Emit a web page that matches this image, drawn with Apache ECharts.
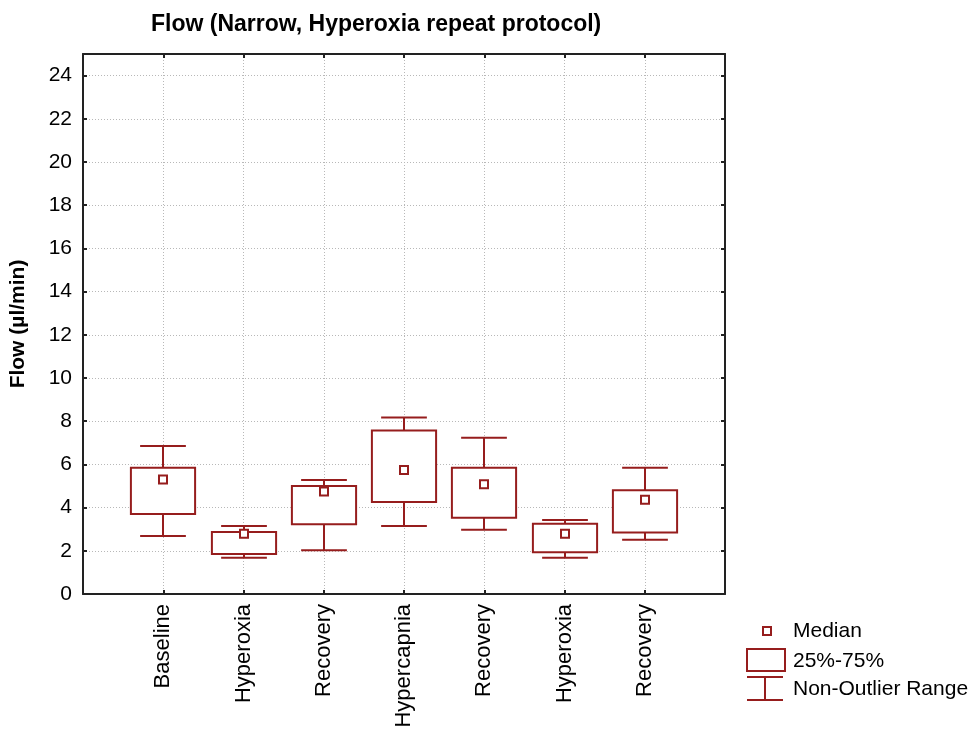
<!DOCTYPE html>
<html>
<head>
<meta charset="utf-8">
<script src="https://cdn.jsdelivr.net/npm/echarts@6/dist/echarts.min.js"></script>
<style>
html,body{margin:0;padding:0;background:#fff;}
#c{width:973px;height:732px;}
</style>
</head>
<body>
<div id="c"></div>
<script>
// Data
const categories = ['', 'Baseline', 'Hyperoxia', 'Recovery', 'Hypercapnia', 'Recovery', 'Hyperoxia', 'Recovery', ''];
const whiskerLow = [2.69, 1.68, 2.03, 3.15, 2.97, 1.68, 2.51];
const q1 = [3.70, 1.85, 3.23, 4.26, 3.53, 1.93, 2.85];
const median = [5.30, 2.79, 4.74, 5.74, 5.08, 2.79, 4.36];
const q3 = [5.84, 2.87, 5.00, 7.57, 5.84, 3.25, 4.80];
const whiskerHigh = [6.85, 3.15, 5.28, 8.17, 7.23, 3.43, 5.84];
const yTicks = [0, 2, 4, 6, 8, 10, 12, 14, 16, 18, 20, 22, 24];

const RED = '#961d1d';
const FONT = 'Liberation Sans, Arial, sans-serif';

const seriesData = whiskerLow.map((v, i) => [i + 1, v, q1[i], median[i], q3[i], whiskerHigh[i]]);

function renderItem(params, api) {
  const x = api.value(0);
  const pLow = api.coord([x, api.value(1)]);
  const pQ1 = api.coord([x, api.value(2)]);
  const pMed = api.coord([x, api.value(3)]);
  const pQ3 = api.coord([x, api.value(4)]);
  const pHigh = api.coord([x, api.value(5)]);
  const step = api.size([1, 0])[0];
  const bw = step * 0.8;
  const cw = step * 0.57;
  const cx = Math.round(pMed[0]);
  const st = {stroke: RED, lineWidth: 2, fill: null};
  const ms = 8;
  return {
    type: 'group',
    children: [
      {type: 'line', shape: {x1: cx, y1: pQ3[1], x2: cx, y2: pHigh[1]}, style: st},
      {type: 'line', shape: {x1: cx, y1: pQ1[1], x2: cx, y2: pLow[1]}, style: st},
      {type: 'line', shape: {x1: cx - cw / 2, y1: pHigh[1], x2: cx + cw / 2, y2: pHigh[1]}, style: st},
      {type: 'line', shape: {x1: cx - cw / 2, y1: pLow[1], x2: cx + cw / 2, y2: pLow[1]}, style: st},
      {type: 'rect', shape: {x: cx - bw / 2, y: pQ3[1], width: bw, height: pQ1[1] - pQ3[1]}, style: {stroke: RED, lineWidth: 2, fill: '#fff'}},
      {type: 'rect', shape: {x: cx - ms / 2, y: pMed[1] - ms / 2, width: ms, height: ms}, style: {stroke: RED, lineWidth: 2, fill: '#fff'}}
    ]
  };
}

const chart = echarts.init(document.getElementById('c'), null, {renderer: 'canvas'});
const gridLine = {show: true, lineStyle: {color: '#b8b8b8', type: [1, 2], width: 1}};
const axisLine = {show: true, onZero: false, lineStyle: {color: '#222', width: 2}};

chart.setOption({
  backgroundColor: '#fff',
  animation: false,
  title: {
    text: 'Flow (Narrow, Hyperoxia repeat protocol)',
    left: 146, top: 8,
    textStyle: {fontFamily: FONT, fontWeight: 'bold', fontSize: 23, color: '#000'}
  },
  grid: {left: 81, right: 248, top: 54, bottom: 138, show: false},
  xAxis: [{
    type: 'category', data: categories, boundaryGap: false, position: 'bottom',
    axisLine: axisLine,
    axisTick: {show: true, inside: true, length: 4, interval: 0, lineStyle: {color: '#222', width: 2}},
    axisLabel: {rotate: 90, interval: 0, fontFamily: FONT, fontSize: 22, color: '#000', margin: 10},
    splitLine: Object.assign({interval: 0}, gridLine)
  }, {
    type: 'category', data: categories, boundaryGap: false, position: 'top',
    axisLine: axisLine,
    axisTick: {show: true, inside: true, length: 4, interval: 0, lineStyle: {color: '#222', width: 2}},
    axisLabel: {show: false}, splitLine: {show: false}
  }],
  yAxis: [{
    type: 'value', min: 0, max: 25, interval: 2, position: 'left',
    name: 'Flow (µl/min)', nameLocation: 'middle', nameGap: 54, nameRotate: 90,
    nameTextStyle: {fontFamily: FONT, fontWeight: 'bold', fontSize: 21, color: '#000'},
    axisLine: axisLine,
    axisTick: {show: true, inside: true, length: 4, lineStyle: {color: '#222', width: 2}},
    axisLabel: {fontFamily: FONT, fontSize: 21, color: '#000', margin: 11, showMaxLabel: false,
      formatter: v => (yTicks.indexOf(v) >= 0 ? String(v) : '')},
    splitLine: gridLine
  }, {
    type: 'value', min: 0, max: 25, interval: 2, position: 'right',
    axisLine: axisLine,
    axisTick: {show: true, inside: true, length: 4, lineStyle: {color: '#222', width: 2}},
    axisLabel: {show: false}, splitLine: {show: false}
  }],
  series: [{
    type: 'custom', name: 'Flow', renderItem: renderItem,
    encode: {x: 0, y: [1, 2, 3, 4, 5]},
    data: seriesData, z: 10
  }],
  graphic: [
    {type: 'rect', shape: {x: 763, y: 627, width: 8, height: 8}, style: {stroke: RED, lineWidth: 2, fill: '#fff'}},
    {type: 'text', x: 793, y: 631, style: {text: 'Median', font: '21px ' + FONT, fill: '#000', textVerticalAlign: 'middle'}},
    {type: 'rect', shape: {x: 747, y: 649, width: 38, height: 22}, style: {stroke: RED, lineWidth: 2, fill: '#fff'}},
    {type: 'text', x: 793, y: 661, style: {text: '25%-75%', font: '21px ' + FONT, fill: '#000', textVerticalAlign: 'middle'}},
    {type: 'line', shape: {x1: 747, y1: 677, x2: 783, y2: 677}, style: {stroke: RED, lineWidth: 2}},
    {type: 'line', shape: {x1: 765, y1: 677, x2: 765, y2: 700}, style: {stroke: RED, lineWidth: 2}},
    {type: 'line', shape: {x1: 747, y1: 700, x2: 783, y2: 700}, style: {stroke: RED, lineWidth: 2}},
    {type: 'text', x: 793, y: 689, style: {text: 'Non-Outlier Range', font: '21px ' + FONT, fill: '#000', textVerticalAlign: 'middle'}}
  ]
});
</script>
</body>
</html>
